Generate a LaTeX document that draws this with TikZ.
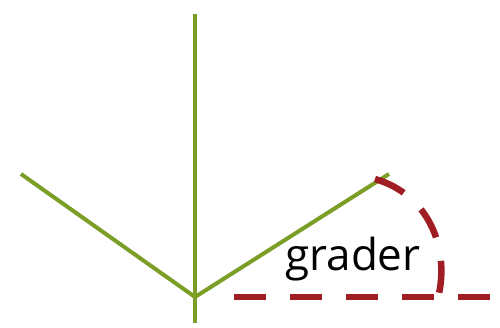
\documentclass[tikz,border=0pt]{standalone}
\usepackage{fontspec}
\setmainfont{Open Sans}
\definecolor{stem}{HTML}{7A9E26}
\definecolor{angred}{HTML}{A11D24}
\begin{document}
\begin{tikzpicture}[x=1pt,y=-1pt,
  greenline/.style={draw=stem,line width=4pt},
  reddash/.style={draw=angred,line width=6.5pt,dash pattern=on 32pt off 24pt}]
\useasboundingbox (0,0) rectangle (500,328);
\coordinate (o) at (195,297);
\coordinate (top) at (195,14);
\coordinate (bot) at (195,323);
\coordinate (left) at (21,174);
\coordinate (right) at (389,174);
\coordinate (hs) at (234,297);
\coordinate (he) at (490,297);
\coordinate (as) at (375,179);
\coordinate (ae) at (438,298);
\draw[greenline] (top) -- (bot);
\draw[greenline] (left) -- (o) -- (right);
\draw[reddash] (hs) -- (he);
\draw[reddash] (as) .. controls (430,195) and (450,250) .. (ae);
\node[font=\fontsize{44}{50}\selectfont,anchor=base,inner sep=0pt] (lbl) at (353,271) {grader};
\end{tikzpicture}
\end{document}
